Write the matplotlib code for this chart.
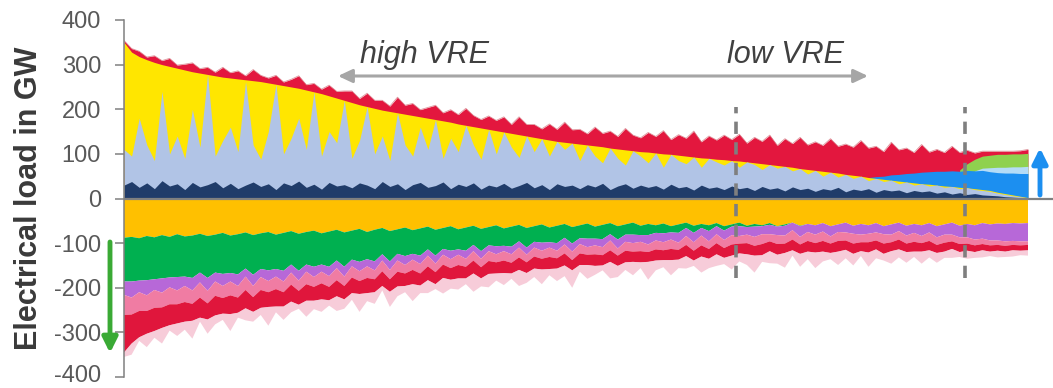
import numpy as np
import matplotlib.pyplot as plt
from matplotlib.transforms import ScaledTranslation

plt.rcParams['font.family'] = ['Liberation Sans', 'DejaVu Sans']

# hours of the year sorted from high VRE (left) to low VRE (right), 120 samples
hours = np.linspace(0, 8760, 120)

# ---- generation side (levels in GW) ----
vre_total = [350, 328, 318, 311, 305, 300, 296, 292, 288, 284,
             281, 278, 275, 272, 270, 268, 266, 264, 262, 259,
             256, 253, 250, 247, 243, 239, 235, 230, 225, 220,
             215, 210, 206, 202, 198, 195, 192, 189, 186, 183,
             180, 177, 174, 171, 167, 164, 161, 158, 155, 152,
             149, 146, 143, 140, 137, 134, 131, 128, 126, 124,
             122, 120, 118, 116, 113, 111, 109, 107, 105, 104,
             102, 100, 99, 97, 95, 93, 91, 90, 88, 87,
             85, 84, 82, 80, 78, 76, 74, 72, 70, 67,
             65, 63, 61, 59, 57, 54, 52, 50, 47, 45,
             43, 41, 39, 37, 35, 33, 32, 30, 28, 27,
             25, 24, 22, 20, 18, 14, 11, 8, 5, 2]

wind_level = [110, 95, 180, 120, 85, 240, 100, 140, 90, 200,
              115, 278, 95, 130, 160, 105, 262, 120, 88, 150,
              256, 100, 135, 180, 110, 239, 95, 150, 125, 220,
              90, 130, 206, 100, 140, 85, 192, 120, 95, 160,
              110, 177, 90, 135, 105, 164, 120, 88, 155, 100,
              149, 115, 92, 140, 105, 134, 95, 128, 110, 124,
              85, 120, 95, 80, 113, 90, 75, 107, 95, 80,
              102, 70, 99, 85, 78, 93, 70, 90, 82, 75,
              85, 70, 82, 76, 65, 76, 68, 72, 62, 67,
              55, 63, 50, 59, 48, 54, 45, 50, 40, 45,
              38, 41, 33, 37, 30, 33, 28, 30, 25, 27,
              22, 24, 20, 18, 16, 12, 9, 6, 4, 1]

hydro_level = [30, 38, 25, 35, 22, 40, 28, 33, 20, 36,
               26, 31, 38, 24, 34, 22, 30, 37, 27, 33,
               20, 35, 29, 39, 25, 32, 21, 36, 28, 31,
               24, 35, 30, 22, 38, 27, 33, 20, 31, 36,
               25, 29, 37, 22, 32, 27, 35, 21, 30, 26,
               34, 23, 29, 36, 24, 31, 20, 33, 27, 30,
               22, 31, 26, 34, 20, 28, 33, 23, 30, 25,
               29, 21, 32, 24, 27, 19, 30, 23, 26, 20,
               28, 22, 25, 18, 27, 21, 24, 17, 26, 20,
               23, 16, 22, 19, 25, 15, 21, 18, 22, 14,
               20, 17, 19, 13, 18, 15, 17, 12, 15, 10,
               13, 9, 11, 8, 7, 6, 4, 3, 2, 1]

thermal_top = [354, 336, 330, 317, 320, 309, 314, 299, 301, 304,
               291, 294, 283, 294, 282, 286, 275, 289, 276, 270,
               276, 261, 267, 275, 255, 258, 245, 254, 240, 241,
               241, 224, 236, 220, 220, 207, 227, 209, 213, 199,
               204, 209, 192, 199, 188, 202, 186, 177, 185, 175,
               183, 166, 183, 166, 166, 156, 167, 155, 171, 154,
               155, 145, 160, 146, 151, 139, 157, 142, 136, 148,
               139, 152, 132, 143, 135, 151, 127, 140, 131, 142,
               132, 144, 124, 137, 128, 142, 119, 134, 123, 137,
               120, 127, 119, 134, 117, 122, 115, 130, 113, 117,
               105, 126, 109, 113, 103, 121, 104, 110, 103, 117,
               103, 108, 102, 106, 106, 106, 106, 106, 107, 110]

storage_top = [0] * 98 + [47, 49, 50, 53, 54, 56, 57, 59, 60, 61, 61,
                          62, 61, 63, 62, 63, 60, 58, 57, 57, 56, 56]
import_top = [0] * 112 + [62, 68, 69, 70, 70, 71, 71, 72]
chp_top = [0] * 110 + [64, 78, 88, 95, 97, 99, 99, 100, 100, 101]

# ---- consumption side (GW, stacked downwards) ----
base_load = [88, 86, 89, 84, 87, 82, 86, 80, 85, 83,
             79, 84, 81, 77, 83, 80, 76, 82, 78, 75,
             81, 77, 73, 79, 75, 72, 78, 74, 70, 76,
             72, 68, 75, 70, 66, 73, 69, 65, 71, 67,
             63, 70, 66, 62, 69, 65, 61, 68, 64, 60,
             67, 63, 59, 66, 62, 58, 65, 61, 57, 64,
             60, 56, 63, 59, 55, 62, 58, 54, 61, 57,
             60, 56, 62, 58, 54, 61, 57, 60, 55, 62,
             58, 54, 61, 57, 60, 55, 62, 58, 54, 61,
             57, 60, 55, 62, 58, 54, 61, 57, 60, 55,
             62, 58, 54, 61, 57, 60, 55, 62, 58, 54,
             61, 57, 60, 55, 58, 56, 57, 55, 56, 55]

heat_load = [98, 100, 95, 99, 94, 97, 91, 96, 90, 95,
             87, 94, 85, 92, 84, 90, 81, 89, 80, 86,
             77, 85, 75, 83, 73, 81, 70, 79, 69, 77,
             65, 74, 61, 71, 59, 68, 55, 64, 53, 61,
             51, 58, 47, 55, 45, 52, 43, 50, 41, 47,
             39, 45, 37, 44, 35, 41, 33, 39, 31, 37,
             29, 34, 27, 32, 25, 30, 23, 27, 21, 25,
             17, 22, 14, 19, 12, 16, 9, 13, 7, 10,
             5, 8, 3, 6, 2, 4, 1, 3, 0, 1] + [0] * 30

h2_load = [30, 36, 26, 34, 24, 32, 22, 30, 21, 28,
           22, 29, 20, 27, 19, 26, 18, 25, 18, 24,
           17, 24, 18, 22, 16, 23, 16, 21, 17, 22,
           15, 21, 16, 20, 14, 19, 15, 20, 13, 19,
           14, 18, 13, 19, 12, 18, 14, 17, 13, 18,
           12, 17, 14, 16, 13, 18, 12, 17, 15, 18,
           13, 19, 15, 18, 14, 20, 16, 19, 15, 21,
           17, 20, 16, 22, 18, 21, 17, 23, 18, 21,
           19, 22, 17, 23, 18, 21, 19, 22, 17, 24,
           18, 21, 19, 23, 17, 22, 18, 24, 19, 21,
           18, 23, 19, 22, 20, 24, 21, 25, 23, 27,
           26, 30, 32, 35, 36, 38, 39, 40, 40, 41]

emob_load = [45, 38, 42, 35, 40, 33, 38, 31, 36, 30,
             34, 28, 32, 27, 31, 26, 30, 25, 29, 25,
             28, 24, 27, 23, 28, 22, 26, 24, 27, 21,
             25, 22, 26, 20, 24, 21, 25, 19, 23, 21,
             24, 19, 22, 20, 23, 18, 21, 19, 22, 18,
             21, 19, 22, 17, 20, 18, 21, 17, 20, 19,
             21, 17, 20, 18, 22, 16, 20, 19, 21, 17,
             20, 18, 21, 16, 20, 19, 22, 17, 20, 18,
             21, 17, 19, 20, 22, 16, 20, 18, 21, 17,
             20, 19, 21, 16, 20, 18, 22, 17, 19, 18,
             21, 17, 19, 18, 20, 16, 19, 17, 18, 15,
             15, 14, 13, 12, 11, 10, 10, 9, 9, 8]

export_load = [84, 65, 59, 51, 52, 46, 47, 43, 44, 38,
               45, 36, 44, 35, 42, 34, 41, 33, 40, 33,
               39, 32, 38, 31, 37, 31, 36, 30, 36, 30,
               35, 29, 34, 29, 33, 28, 33, 28, 32, 27,
               31, 27, 30, 26, 30, 26, 29, 25, 29, 25,
               28, 24, 28, 24, 27, 24, 27, 23, 27, 23,
               26, 23, 26, 23, 26, 23, 26, 23, 25, 22,
               25, 22, 25, 22, 25, 22, 25, 22, 25, 22,
               25, 22, 25, 22, 25, 22, 24, 21, 24, 21,
               24, 21, 24, 21, 24, 21, 23, 20, 23, 20,
               23, 20, 22, 19, 22, 19, 21, 18, 20, 17,
               18, 16, 15, 14, 14, 13, 13, 12, 12, 12]

export_peaks = [10, 25, 8, 30, 15, 35, 12, 28, 18, 40,
                9, 32, 20, 14, 38, 11, 27, 22, 16, 42,
                13, 30, 24, 9, 36, 19, 28, 12, 33, 21,
                15, 40, 18, 26, 10, 34, 22, 14, 38, 17,
                29, 11, 35, 20, 25, 13, 41, 18, 30, 16,
                27, 12, 36, 22, 19, 33, 14, 28, 24, 39,
                15, 31, 20, 11, 37, 25, 17, 30, 13, 40,
                22, 16, 34, 19, 28, 12, 36, 21, 26, 14,
                31, 18, 24, 38, 15, 27, 20, 33, 12, 29,
                17, 35, 22, 14, 30, 19, 26, 11, 32, 20,
                15, 28, 18, 24, 12, 27, 16, 22, 14, 20,
                11, 18, 13, 16, 10, 15, 12, 14, 10, 12]

y_ticks = [400, 300, 200, 100, 0, -100, -200, -300, -400]
y_tick_labels = ['400', '300', '200', '100', '0', '-100', '-200', '-300', '-400']


def px(x, y):
    # reference pixel position -> figure fraction
    return x / 1053, 1 - y / 388


fig = plt.figure(figsize=(10.53, 3.88), dpi=100)
ax = fig.add_axes([124 / 1053, 11 / 388, 929 / 1053, 357 / 388])

# generation side
ax.fill_between(hours, 0, thermal_top, color='#e3173e', lw=0)
ax.plot(hours, thermal_top, color='#d77b85', lw=0.6, alpha=0.8)
chp = np.array(chp_top)
ax.fill_between(hours, 0, chp, where=chp > 0, color='#8fd14f', lw=0)
imp = np.array(import_top)
ax.fill_between(hours, 0, imp, where=imp > 0, color='#b4dcf7', lw=0)
sto = np.array(storage_top)
ax.fill_between(hours, 0, sto, where=sto > 0, color='#1c8ff0', lw=0)
ax.fill_between(hours, 0, vre_total, color='#ffe600', lw=0)
ax.fill_between(hours, 0, wind_level, color='#b1c4e6', lw=0)
ax.fill_between(hours, 0, hydro_level, color='#203c6a', lw=0)

# consumption side
neg = [-np.array(s) for s in (base_load, heat_load, h2_load, emob_load,
                              export_load, export_peaks)]
polys = ax.stackplot(hours, *neg,
                     colors=['#ffc000', '#00b050', '#b768d8', '#f07ca3',
                             '#e0163c', '#f2aac0'], lw=0)
polys[-1].set_alpha(0.6)

ax.axhline(0, color='#808080', lw=1.6, zorder=5)
ax.vlines([5930, 8150], -179, 204, colors='#7f7f7f', lw=2.6,
          linestyles=(0, (3.4, 2.3)), zorder=6)

ax.set_xlim(0, 8760 * 929 / 904)
ax.set_ylim(-400, 400)
ax.set_xticks([])
ax.set_yticks(y_ticks)
ax.set_yticklabels(y_tick_labels)
ax.tick_params(axis='y', colors='#808080', labelcolor='#595959',
               labelsize=17, length=6.5, width=1.1, pad=10)
# nudge the bottom label up a little so it stays inside the canvas
low = ax.get_yticklabels()[-1]
low.set_transform(low.get_transform() + ScaledTranslation(0, 3 / 100, fig.dpi_scale_trans))
for s in ['top', 'right', 'bottom']:
    ax.spines[s].set_visible(False)
ax.spines['left'].set_color('#808080')
ax.spines['left'].set_linewidth(1.1)

fig.text(29 / 1053, 1 - 198 / 388, 'Electrical load in GW', rotation=90,
         ha='center', va='center', fontsize=22, fontweight='bold',
         color='#3a3a3a')

# annotations
ax.annotate('', xy=px(338, 76), xytext=px(868, 76),
            xycoords='figure fraction', textcoords='figure fraction',
            arrowprops=dict(arrowstyle='<|-|>,head_length=0.85,head_width=0.4',
                            mutation_scale=10, lw=2.2, color='#a6a6a6',
                            shrinkA=0, shrinkB=0))
fig.text(*px(360, 63), 'high VRE', fontsize=22, style='italic',
         color='#404040', ha='left', va='baseline')
fig.text(*px(727, 63), 'low VRE', fontsize=22, style='italic',
         color='#404040', ha='left', va='baseline')

ax.annotate('', xy=px(110, 353), xytext=px(110, 242),
            xycoords='figure fraction', textcoords='figure fraction',
            arrowprops=dict(arrowstyle='-|>,head_length=0.9,head_width=0.45',
                            mutation_scale=10, lw=3.5, color='#3aaa35',
                            shrinkA=0, shrinkB=0))
ax.annotate('', xy=px(1040, 148), xytext=px(1040, 195),
            xycoords='figure fraction', textcoords='figure fraction',
            arrowprops=dict(arrowstyle='-|>,head_length=0.9,head_width=0.45',
                            mutation_scale=10, lw=3.5, color='#1c8ff0',
                            shrinkA=0, shrinkB=0))

fig.savefig('out.png', dpi=100)
